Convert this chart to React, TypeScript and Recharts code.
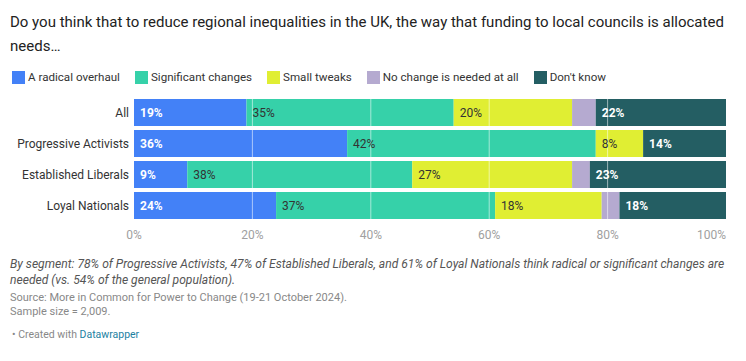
import React from "react";
import { Bar, BarChart, LabelList, ReferenceLine, XAxis, YAxis } from "recharts";

const segments = ["All", "Progressive Activists", "Established Liberals", "Loyal Nationals"];
const radicalOverhaul = [19, 36, 9, 24];
const significantChanges = [35, 42, 38, 37];
const smallTweaks = [20, 8, 27, 18];
const noChange = [4, 0, 3, 3];
const dontKnow = [22, 14, 23, 18];
const xTicks = [0, 20, 40, 60, 80, 100];

const series = [
	{ key: "radical", name: "A radical overhaul", values: radicalOverhaul, color: "#4381f7", label: "#fff", bold: true },
	{ key: "significant", name: "Significant changes", values: significantChanges, color: "#36d1a9", label: "#333", bold: false },
	{ key: "small", name: "Small tweaks", values: smallTweaks, color: "#e0ee33", label: "#333", bold: false },
	{ key: "none", name: "No change is needed at all", values: noChange, color: "#b5aad0", label: "", bold: false },
	{ key: "dk", name: "Don't know", values: dontKnow, color: "#245e63", label: "#fff", bold: true },
];

const data = segments.map((seg, i) => {
	const row: Record<string, string | number> = { segment: seg };
	series.forEach((s) => {
		row[s.key] = s.values[i];
	});
	return row;
});

const font = "Roboto, 'Noto Sans', sans-serif";

const XTick = (props: any) => {
	const { x, y, payload } = props;
	const v = payload.value;
	return (
		<text
			x={x}
			y={y + 10}
			textAnchor={v === 100 ? "end" : "middle"}
			fill="#a0a0a0"
			fontSize={12}
			fontFamily={font}
		>
			{v}%
		</text>
	);
};

const YTick = (props: any) => {
	const { x, y, payload } = props;
	return (
		<text x={x} y={y} dy={4} textAnchor="end" fill="#333" fontSize={12} fontFamily={font}>
			{payload.value}
		</text>
	);
};

const makeLabel = (color: string, bold: boolean) => (props: any) => {
	const { x, y, width, height, value } = props;
	if (!color || !value || width < 14) return null;
	return (
		<text
			x={x + 6}
			y={y + height / 2}
			dy={4}
			fill={color}
			fontSize={12}
			fontWeight={bold ? 700 : 400}
			fontFamily={font}
		>
			{value}%
		</text>
	);
};

export default function App() {
	return (
		<div
			style={{
				position: "absolute",
				top: 0,
				left: 0,
				width: 746,
				height: 361,
				background: "#fff",
				fontFamily: font,
				color: "#333",
			}}
		>
			<div style={{ position: "absolute", left: 10, top: 10, width: 715, fontSize: 15, lineHeight: "24px", color: "#222" }}>
				Do you think that to reduce regional inequalities in the UK, the way that funding to local councils is allocated needs…
			</div>
			<div style={{ position: "absolute", left: 12, top: 70, display: "flex", fontSize: 11.6, color: "#333" }}>
				{series.map((s) => (
					<div key={s.key} style={{ display: "flex", alignItems: "center", marginRight: 15 }}>
						<span style={{ width: 13, height: 13, background: s.color, display: "inline-block", marginRight: 3 }} />
						<span>{s.name}</span>
					</div>
				))}
			</div>
			<div style={{ position: "absolute", left: 0, top: 90 }}>
				<BarChart
					width={746}
					height={160}
					data={data}
					layout="vertical"
					margin={{ top: 7, right: 20, bottom: 0, left: 0 }}
					barSize={27}
				>
					<XAxis
						type="number"
						domain={[0, 100]}
						ticks={xTicks}
						axisLine={false}
						tickLine={false}
						tick={<XTick />}
						interval={0}
						height={29}
					/>
					<YAxis
						type="category"
						dataKey="segment"
						width={134}
						axisLine={false}
						tickLine={false}
						tickSize={0}
						tickMargin={5}
						tick={<YTick />}
					/>
					{series.map((s) => (
						<Bar key={s.key} dataKey={s.key} name={s.name} stackId="a" fill={s.color} isAnimationActive={false}>
							<LabelList dataKey={s.key} content={makeLabel(s.label, s.bold)} />
						</Bar>
					))}
					{[20, 40, 60, 80].map((v) => (
						<ReferenceLine key={v} x={v} stroke="#ffffff" strokeOpacity={0.55} strokeWidth={1} />
					))}
				</BarChart>
			</div>
			<div style={{ position: "absolute", left: 10, top: 256, width: 740, fontSize: 12.1, lineHeight: "16px", fontStyle: "italic", color: "#555" }}>
				By segment: 78% of Progressive Activists, 47% of Established Liberals, and 61% of Loyal Nationals think radical or significant changes are needed (vs. 54% of the general population).
			</div>
			<div style={{ position: "absolute", left: 10, top: 291, fontSize: 11, lineHeight: "14px", color: "#888" }}>
				Source: More in Common for Power to Change (19-21 October 2024).
				<br />
				Sample size = 2,009.
			</div>
			<div style={{ position: "absolute", left: 12, top: 328, fontSize: 10.5, lineHeight: "14px", color: "#888" }}>
				• Created with <span style={{ color: "#1d81a2" }}>Datawrapper</span>
			</div>
		</div>
	);
}
